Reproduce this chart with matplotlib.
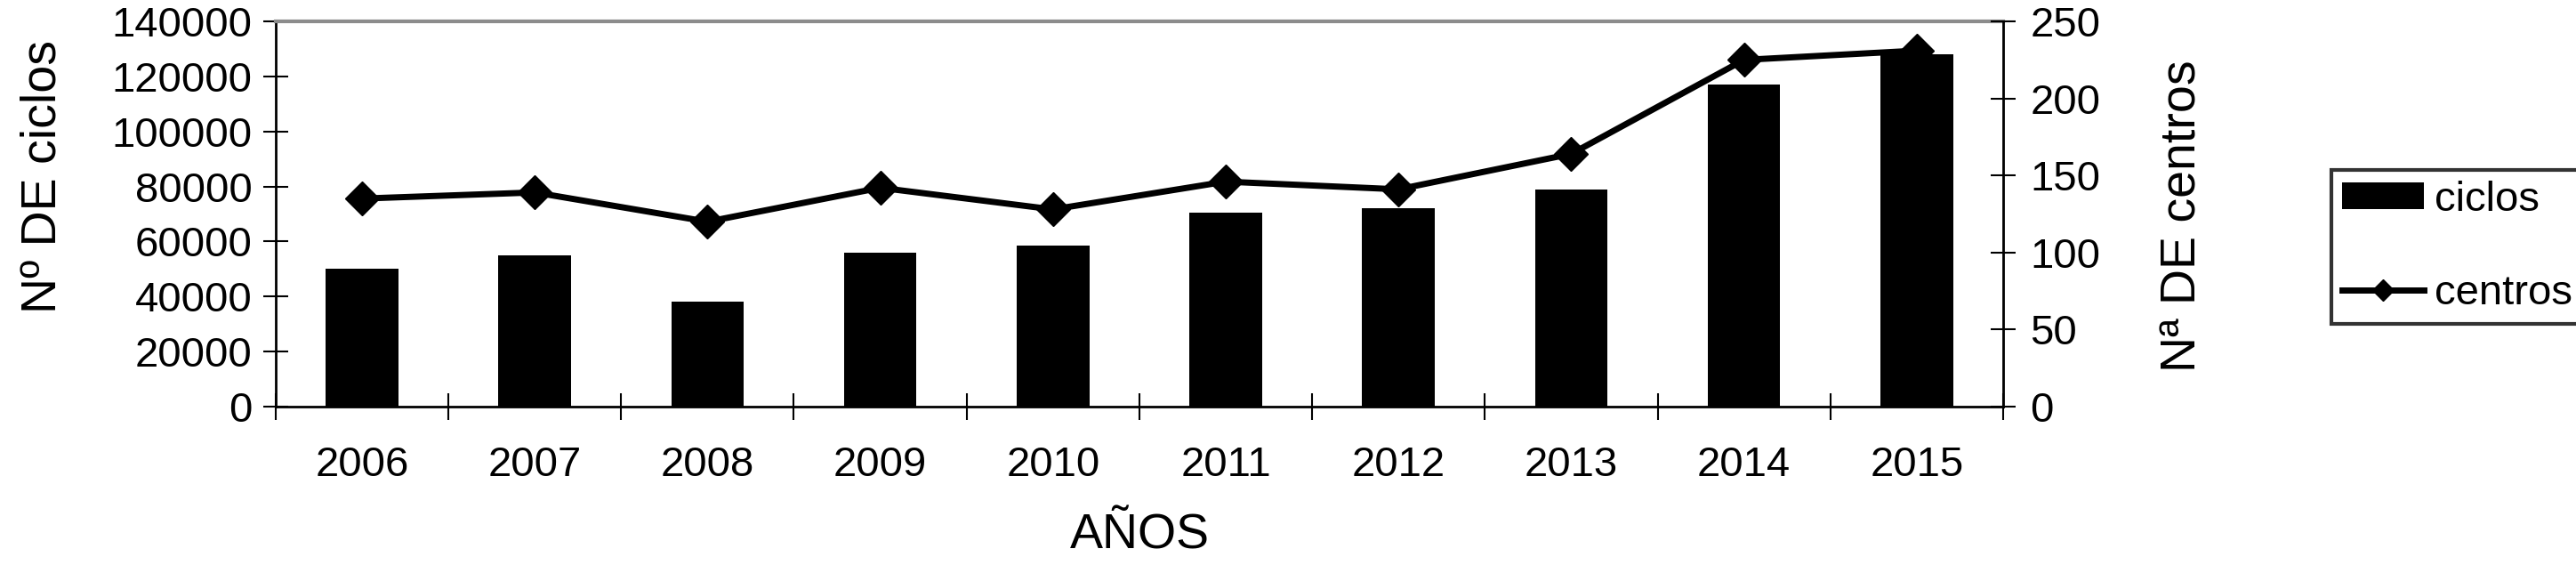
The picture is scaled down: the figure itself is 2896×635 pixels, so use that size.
import numpy as np
import matplotlib
matplotlib.use('Agg')
import matplotlib.pyplot as plt

plt.rcParams['font.family'] = ['Liberation Sans', 'DejaVu Sans']

# --- Data
years   = ['2006', '2007', '2008', '2009', '2010', '2011', '2012', '2013', '2014', '2015']
ciclos  = [50000, 55000, 38000, 56000, 58500, 70500, 72000, 79000, 117000, 128000]
centros = [135, 139, 120, 142, 128, 146, 141, 164, 225, 231]

# --- Figure
fig = plt.figure(figsize=(28.96, 6.35), dpi=100)
ax = fig.add_axes([0.1070, 0.2803, 0.6706, 0.6819])

x = np.arange(len(years))
hb = ax.bar(x, ciclos, width=0.42, color='black', label='ciclos', zorder=2)
ax.set_xlim(-0.5, len(years) - 0.5)
ax.set_ylim(0, 140000)
ax.set_yticks(np.arange(0, 140001, 20000))

# category boundaries as major ticks, labels on minor ticks
ax.set_xticks(np.arange(-0.5, len(years), 1))
ax.set_xticklabels([])
ax.set_xticks(x, minor=True)
ax.set_xticklabels(years, minor=True)
ax.tick_params(axis='x', which='minor', length=0, pad=32, labelsize=34)
ax.tick_params(axis='x', which='major', direction='inout', length=21, width=1.5)
ax.tick_params(axis='y', direction='inout', length=20, width=1.5, pad=9, labelsize=34)

for s in ['left', 'bottom']:
    ax.spines[s].set_linewidth(2)
ax.spines['right'].set_visible(False)
ax.spines['top'].set_color('#8c8c8c')
ax.spines['top'].set_linewidth(3)

# --- Second axis
ax2 = ax.twinx()
hl, = ax2.plot(x, centros, color='black', lw=5, marker='D', ms=19, label='centros', zorder=3)
ax2.set_ylim(0, 250)
ax2.set_yticks(np.arange(0, 251, 50))
ax2.tick_params(axis='y', direction='inout', length=20, width=1.5, pad=12, labelsize=34)
for s in ['left', 'bottom', 'top']:
    ax2.spines[s].set_visible(False)
ax2.spines['right'].set_linewidth(2)

# --- Labels
ax.set_ylabel('Nº DE ciclos', fontsize=40)
ax.yaxis.label.set_va('center')
ax.yaxis.set_label_coords(-0.1344, 0.598)
ax2.set_ylabel('Nª DE centros', fontsize=40, rotation=90)
ax2.yaxis.label.set_va('center')
ax2.yaxis.set_label_coords(1.1045, 0.494)
ax.set_xlabel('AÑOS', fontsize=40)
ax.xaxis.label.set_va('center')
ax.xaxis.set_label_coords(0.5, -0.335)

# --- Legend
leg = fig.legend([hb, hl], ['ciclos', 'centros'], loc='upper left',
                 bbox_to_anchor=(2621/2896, 1-191/635), borderaxespad=0,
                 fontsize=34, frameon=True, fancybox=False, edgecolor='black',
                 handlelength=1.95, handleheight=0.6, handletextpad=0.25,
                 labelspacing=1.3, borderpad=0.25, markerscale=0.65)
leg.get_frame().set_linewidth(3)

fig.savefig('out.png', dpi=100)
